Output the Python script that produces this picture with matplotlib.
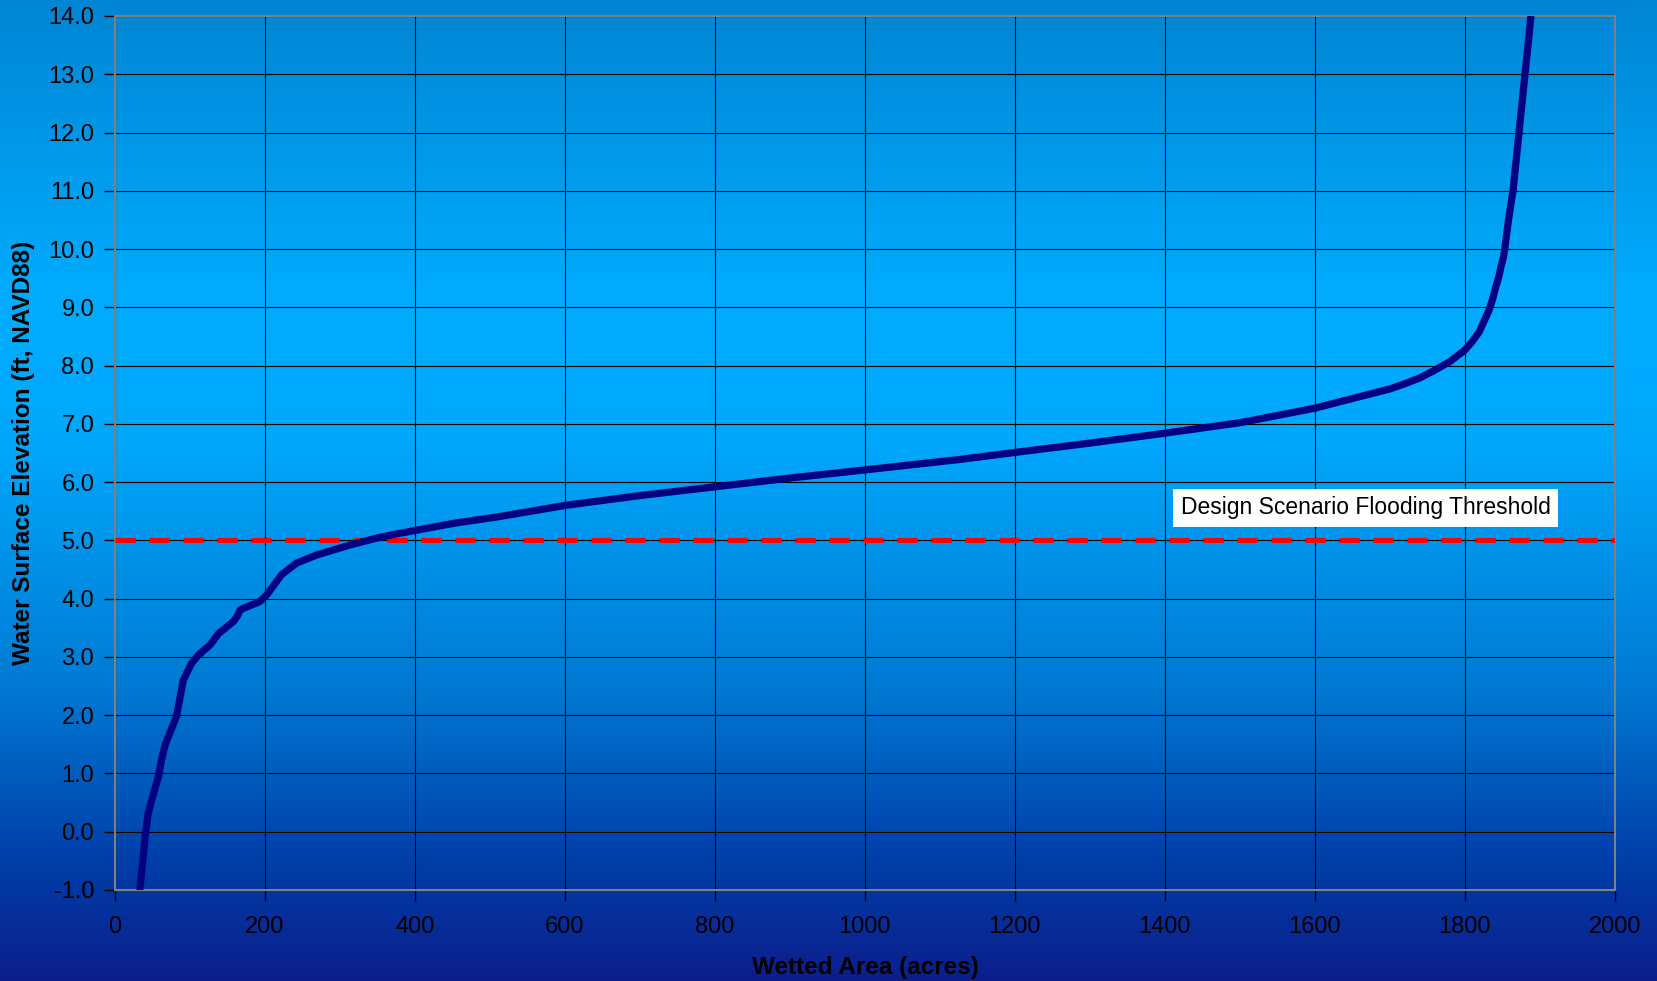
import matplotlib
matplotlib.use("Agg")
import matplotlib.pyplot as plt
import numpy as np
from matplotlib.colors import LinearSegmentedColormap

plt.rcParams["font.family"] = ["Liberation Sans", "DejaVu Sans"]

# stage-area curve
wetted_area = [33, 37, 41, 44, 48, 58, 62, 67, 73, 82, 87, 91, 102, 111,
               127, 138, 158, 163, 167, 180, 193, 202, 222, 242, 269, 313,
               349, 375, 400, 450, 487, 513, 600, 700, 800, 900, 1000, 1127,
               1200, 1300, 1400, 1500, 1600, 1700, 1720, 1740, 1758, 1780,
               1800, 1810, 1819, 1825, 1832, 1837, 1841, 1845, 1848, 1851,
               1853, 1858, 1864, 1872, 1880, 1888]
elevation = [-1.0, -0.5, 0.0, 0.3, 0.5, 0.95, 1.23, 1.5, 1.69, 1.98, 2.32,
             2.6, 2.89, 3.03, 3.21, 3.40, 3.61, 3.70, 3.81, 3.88, 3.95, 4.06,
             4.41, 4.61, 4.75, 4.92, 5.04, 5.11, 5.17, 5.29, 5.36, 5.41, 5.60,
             5.77, 5.92, 6.07, 6.21, 6.39, 6.51, 6.67, 6.84, 7.02, 7.27, 7.60,
             7.69, 7.79, 7.91, 8.07, 8.27, 8.42, 8.58, 8.75, 8.95, 9.15, 9.35,
             9.52, 9.70, 9.85, 10.0, 10.5, 11.0, 12.0, 13.0, 14.0]

threshold = 5.0
threshold_label = "Design Scenario Flooding Threshold"

x_ticks = np.arange(0, 2001, 200)
y_ticks = np.arange(-1, 14.1, 1)

fig = plt.figure(figsize=(16.58, 9.81), dpi=100)

# gradient background behind everything
bg = fig.add_axes([0, 0, 1, 1], zorder=-10)
stops = [(0.0, (12/255, 30/255, 140/255)),
         (0.12, (0/255, 62/255, 168/255)),
         (0.30, (0/255, 122/255, 212/255)),
         (0.55, (0/255, 168/255, 252/255)),
         (0.70, (0/255, 172/255, 255/255)),
         (1.0, (0/255, 133/255, 212/255))]
cmap = LinearSegmentedColormap.from_list("bg", stops)
grad = np.linspace(0, 1, 512).reshape(-1, 1)
bg.imshow(grad, aspect="auto", cmap=cmap, origin="lower", extent=[0, 1, 0, 1])
bg.set_axis_off()

ax = fig.add_axes([115/1658, 1 - 890/981, 1500/1658, 874/981])
ax.patch.set_alpha(0)

ax.plot(wetted_area, elevation, color="#000080", linewidth=5.2,
        solid_joinstyle="round", solid_capstyle="butt", zorder=4)
ax.axhline(threshold, color="#ff0000", linewidth=3.6, dashes=(4, 2.8), zorder=3)

ax.text(1421, 5.56, threshold_label, fontsize=16.5, ha="left", va="center",
        bbox=dict(boxstyle="square,pad=0.32", facecolor="white", edgecolor="none"),
        zorder=5)

ax.set_xlim(0, 2000)
ax.set_ylim(-1, 14)
ax.set_xticks(x_ticks)
ax.set_yticks(y_ticks)
ax.set_yticklabels([f"{v:.1f}" for v in y_ticks])
ax.tick_params(axis="both", labelsize=17, length=8, width=1, color="black")
ax.tick_params(axis="y", pad=7)
ax.tick_params(axis="x", pad=11)
ax.grid(True, color="black", linewidth=0.8)
ax.set_axisbelow(True)
for s in ax.spines.values():
    s.set_color("#808080")
    s.set_linewidth(1.5)

ax.set_xlabel("Wetted Area (acres)", fontsize=17.5, fontweight="bold")
ax.set_ylabel("Water Surface Elevation (ft, NAVD88)", fontsize=17.5, fontweight="bold")
ax.xaxis.set_label_coords(0.5, -0.075)
ax.yaxis.set_label_coords(-0.0535, 0.5)

fig.savefig("out.png", dpi=100)
